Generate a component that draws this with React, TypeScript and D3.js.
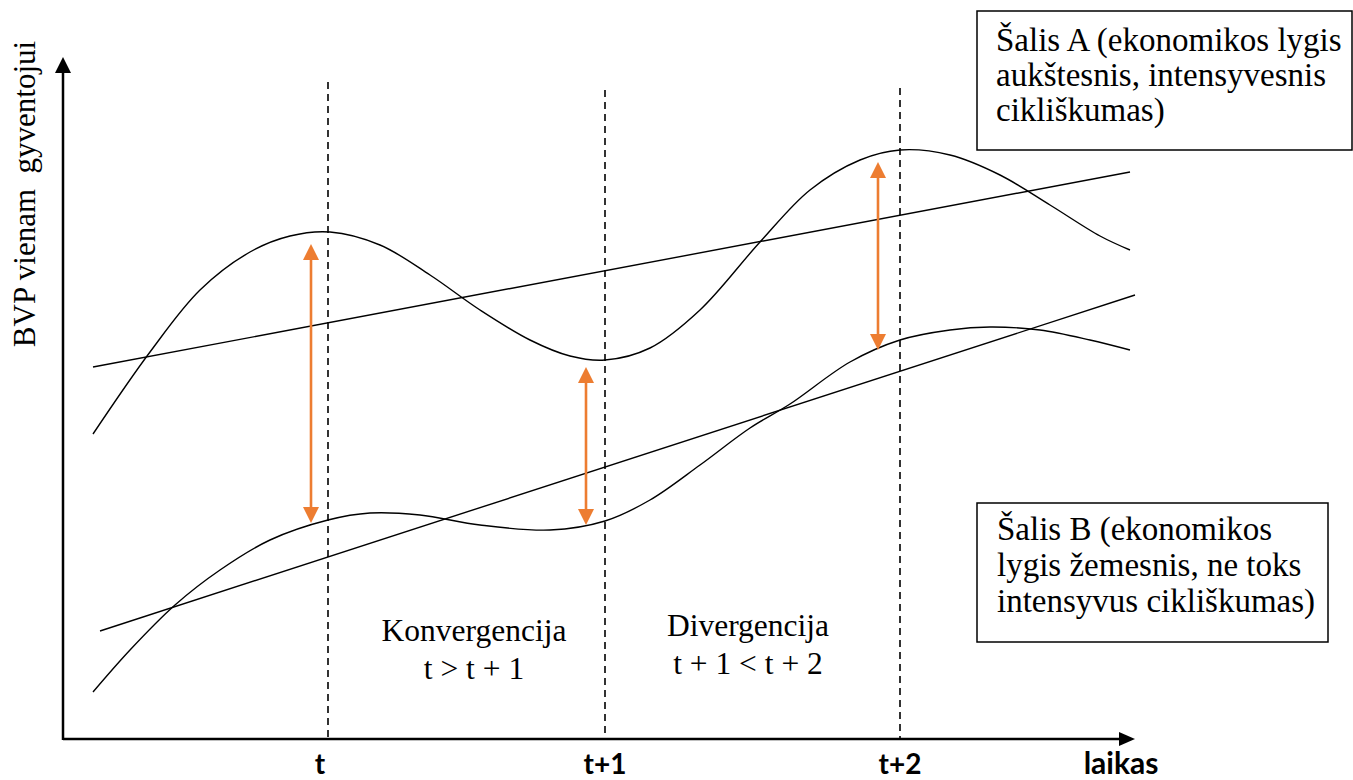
import React from "react";
import * as d3 from "d3";

// Data units: x = time position, y = GDP per capita level (schematic)
const timeTicks = ["t", "t+1", "t+2"];
const timeTickPos = [265, 542, 837];
const dashTop = [657, 649, 651];

const curveA_x = [30, 87, 137, 187, 227, 267, 317, 367, 417, 467, 507, 542, 587, 637, 697, 747, 797, 837, 887, 937, 987, 1037, 1067];
const curveA_y = [305, 387, 449, 487, 503, 507, 494, 464, 429, 399, 383, 379, 391, 429, 497, 549, 579, 589, 584, 564, 534, 503, 489];

const curveB_x = [30, 67, 112, 157, 207, 265, 307, 357, 417, 487, 542, 587, 637, 687, 727, 787, 837, 887, 927, 977, 1027, 1067];
const curveB_y = [47, 89, 134, 169, 199, 219, 226, 224, 214, 209, 218, 239, 274, 311, 335, 377, 399, 409, 412, 409, 399, 389];

const trendA = [[30, 372], [1067, 567]];
const trendB = [[37, 108], [1072, 444]];

const arrowX = [248, 523, 815];
const arrowTop = [495, 372, 577];
const arrowBottom = [216, 214, 389];

const boxALines = ["Šalis A (ekonomikos lygis", "aukštesnis, intensyvesnis", "cikliškumas)"];
const boxBLines = ["Šalis B (ekonomikos", "lygis žemesnis, ne toks", "intensyvus cikliškumas)"];
const convLines = ["Konvergencija", "t > t + 1"];
const divLines = ["Divergencija", "t + 1 < t + 2"];
const yLabel = "BVP vienam  gyventojui";
const xLabel = "laikas";

const W = 1353;
const H = 780;
const x0 = 63, x1 = 1135, y0 = 739, y1 = 57;

const x = d3.scaleLinear().domain([0, 1072]).range([x0, x1]);
const y = d3.scaleLinear().domain([0, 682]).range([y0, y1]);

const serif = "'Liberation Serif', 'Times New Roman', serif";
const sans = "Lato, 'Liberation Sans', sans-serif";
const orange = "#ED7D31";

export default function App() {
  const line = d3
    .line<[number, number]>()
    .x((d) => x(d[0]))
    .y((d) => y(d[1]))
    .curve(d3.curveCatmullRom.alpha(0.5));
  const straight = d3
    .line<number[]>()
    .x((d) => x(d[0]))
    .y((d) => y(d[1]));

  const ptsA = curveA_x.map((v, i) => [v, curveA_y[i]] as [number, number]);
  const ptsB = curveB_x.map((v, i) => [v, curveB_y[i]] as [number, number]);

  const head = 16, hw = 8;

  return (
    <div style={{ position: "absolute", left: 0, top: 0 }}>
      <svg width={W} height={H} style={{ display: "block", background: "#fff" }}>
        {/* axes */}
        <line x1={x0} y1={y0} x2={x1 - 14} y2={y0} stroke="#000" strokeWidth={2.5} />
        <path d={`M${x1},${y0} L${x1 - 16},${y0 - 7} L${x1 - 16},${y0 + 7} Z`} fill="#000" />
        <line x1={x0} y1={y0 + 1} x2={x0} y2={y1 + 14} stroke="#000" strokeWidth={2.5} />
        <path d={`M${x0},${y1} L${x0 - 8},${y1 + 16} L${x0 + 8},${y1 + 16} Z`} fill="#000" />

        {/* dashed time lines */}
        {timeTickPos.map((t, i) => (
          <line key={i} x1={x(t)} x2={x(t)} y1={y(dashTop[i])} y2={y0} stroke="#000" strokeWidth={1.6} strokeDasharray="7,5" />
        ))}

        {/* trend lines */}
        <path d={straight(trendA) || ""} fill="none" stroke="#000" strokeWidth={1.4} />
        <path d={straight(trendB) || ""} fill="none" stroke="#000" strokeWidth={1.4} />

        {/* cyclical curves */}
        <path d={line(ptsA) || ""} fill="none" stroke="#000" strokeWidth={1.4} />
        <path d={line(ptsB) || ""} fill="none" stroke="#000" strokeWidth={1.4} />

        {/* orange double arrows */}
        {arrowX.map((ax, i) => {
          const px = x(ax), pt = y(arrowTop[i]), pb = y(arrowBottom[i]);
          return (
            <g key={i}>
              <line x1={px} x2={px} y1={pt + head - 2} y2={pb - head + 2} stroke={orange} strokeWidth={2.6} />
              <path d={`M${px},${pt} L${px - hw},${pt + head} L${px + hw},${pt + head} Z`} fill={orange} />
              <path d={`M${px},${pb} L${px - hw},${pb - head} L${px + hw},${pb - head} Z`} fill={orange} />
            </g>
          );
        })}

        {/* tick labels */}
        {timeTicks.map((t, i) => (
          <text key={t} x={x(timeTickPos[i]) - (i === 0 ? 8 : 0)} y={774} textAnchor="middle" fontFamily={sans} fontWeight={700} fontSize={28} fill="#000">
            {t}
          </text>
        ))}
        <text x={1121} y={774} textAnchor="middle" fontFamily={sans} fontWeight={700} fontSize={30} fill="#000">
          {xLabel}
        </text>

        {/* y label */}
        <text
          transform={`translate(35,194) rotate(-90)`}
          textAnchor="middle"
          fontFamily={serif}
          fontSize={31}
          fill="#000"
          style={{ whiteSpace: "pre" }}
        >
          {yLabel}
        </text>

        {/* box A */}
        <rect x={977} y={11} width={375} height={139} fill="#fff" stroke="#000" strokeWidth={1.5} />
        {boxALines.map((l, i) => (
          <text key={i} x={996} y={51 + i * 35} fontFamily={serif} fontSize={33} fill="#000">
            {l}
          </text>
        ))}

        {/* box B */}
        <rect x={977} y={503} width={351} height={139} fill="#fff" stroke="#000" strokeWidth={1.5} />
        {boxBLines.map((l, i) => (
          <text key={i} x={997} y={540 + i * 36} fontFamily={serif} fontSize={33} fill="#000">
            {l}
          </text>
        ))}

        {/* center annotations */}
        {convLines.map((l, i) => (
          <text key={i} x={474} y={641 + i * 38} textAnchor="middle" fontFamily={serif} fontSize={31.5} fill="#000">
            {l}
          </text>
        ))}
        {divLines.map((l, i) => (
          <text key={i} x={748} y={636 + i * 38} textAnchor="middle" fontFamily={serif} fontSize={31.5} fill="#000">
            {l}
          </text>
        ))}
      </svg>
    </div>
  );
}
